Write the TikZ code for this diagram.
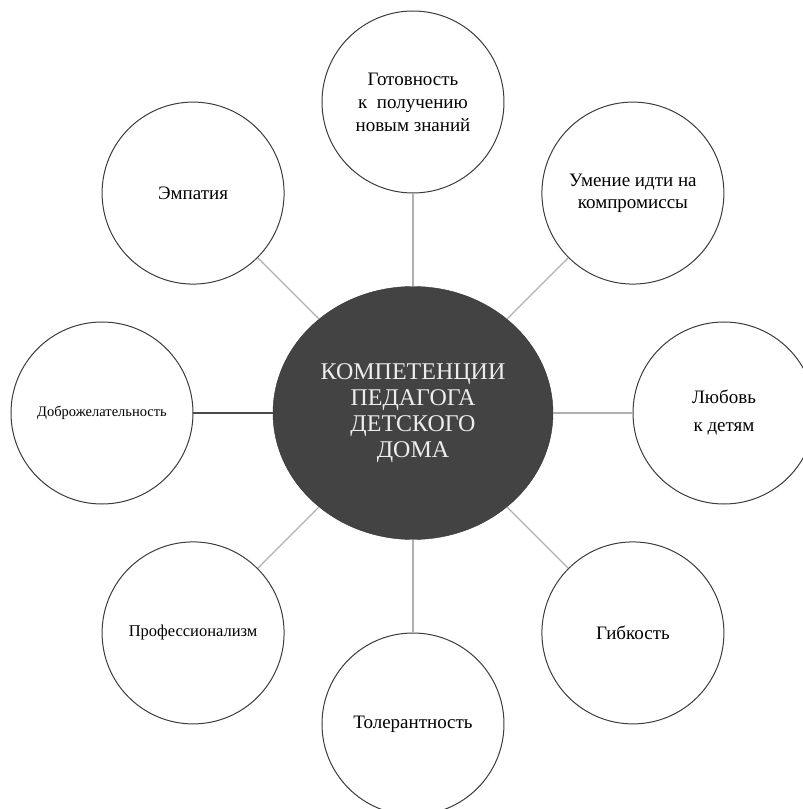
\documentclass[tikz,border=0pt]{standalone}
\usepackage{fontspec}
\setmainfont{LiberationSerif}[Extension=.ttf, UprightFont=*-Regular, BoldFont=*-Bold, ItalicFont=*-Italic]
\usetikzlibrary{shapes.geometric}

\definecolor{hubfill}{HTML}{434343}
\definecolor{ringcol}{HTML}{3C3C3C}
\definecolor{linkcol}{HTML}{B0B0B0}
\definecolor{darklink}{HTML}{4A4A4A}

\begin{document}
\begin{tikzpicture}[x=1pt, y=1pt,
        hub/.style = {ellipse, fill=hubfill, draw=hubfill!80!black, minimum width=280pt, minimum height=253pt, inner sep=0pt, text=white!93!black, align=center, font=\fontsize{24}{26}\selectfont},
        skill/.style = {draw=ringcol, line width=1pt, circle, minimum size=182pt, inner sep=0pt, align=center, font=\fontsize{19}{23}\selectfont},
        link/.style = {draw=linkcol, line width=1.1pt}]
        \useasboundingbox (-413,-396) rectangle (390,413);

        \node[hub] (hub) at (0,0) {КОМПЕТЕНЦИИ\\ПЕДАГОГА\\ДЕТСКОГО\\ДОМА};

        \node[skill] (ready) at (90:311) {Готовность\\к\ \ получению\\новым знаний};
        \node[skill, font=\fontsize{19}{22}\selectfont] (deal) at (45:311) {Умение идти на\\компромиссы};
        \node[skill, font=\fontsize{19}{28}\selectfont] (love) at (0:311) {Любовь\\к детям};
        \node[skill] (flex) at (-45:311) {Гибкость};
        \node[skill] (toler) at (-90:311) {Толерантность};
        \node[skill, font=\fontsize{16.5}{20}\selectfont] (prof) at (-135:311) {Профессионализм};
        \node[skill, font=\fontsize{14.5}{18}\selectfont] (kind) at (180:311) {Доброжелательность};
        \node[skill] (empathy) at (135:311) {Эмпатия};

        \draw[link] (hub) -- (ready);
        \draw[link] (hub) -- (deal);
        \draw[link] (hub) -- (love);
        \draw[link] (hub) -- (flex);
        \draw[link] (hub) -- (toler);
        \draw[link] (hub) -- (prof);
        \draw[link, draw=darklink] (hub) -- (kind);
        \draw[link] (hub) -- (empathy);

    \end{tikzpicture}
\end{document}
